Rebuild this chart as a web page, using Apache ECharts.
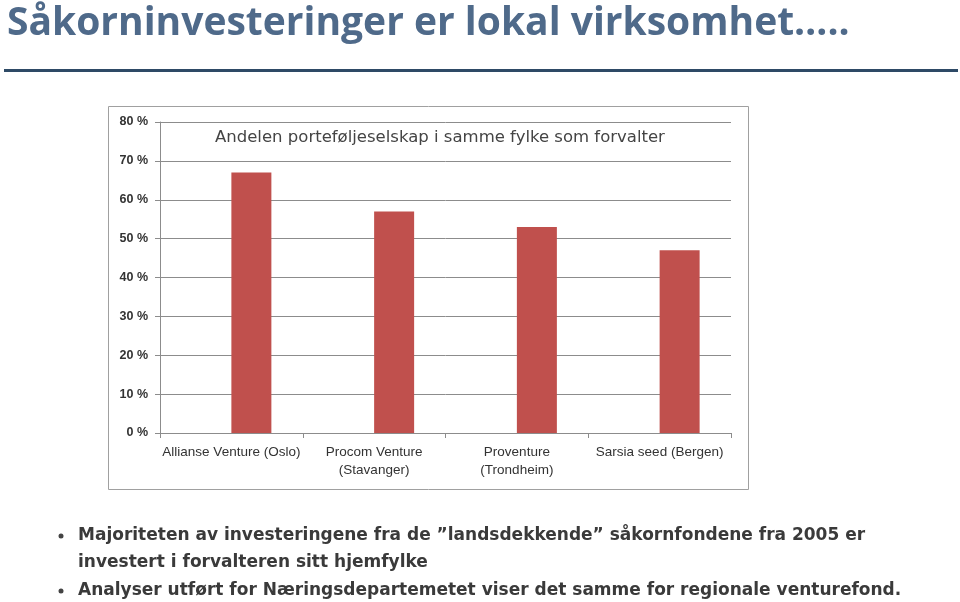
<!DOCTYPE html>
<html>
<head>
<meta charset="utf-8">
<script src="https://cdn.jsdelivr.net/npm/echarts@6/dist/echarts.min.js"></script>
<style>
  html, body { margin: 0; padding: 0; background: #fff; }
  #main { width: 960px; height: 602px; }
</style>
</head>
<body>
<div id="main"></div>
<script>
// data
var categories = ['Allianse Venture (Oslo)', 'Procom Venture\n(Stavanger)', 'Proventure\n(Trondheim)', 'Sarsia seed (Bergen)'];
var shares = [67, 57, 53, 47];
// the original (Excel) chart had an empty first series, which pushes the bars right
var emptySeries = [null, null, null, null];
var yTicks = [0, 10, 20, 30, 40, 50, 60, 70, 80];
var bullets = [
  'Majoriteten av investeringene fra de \u201dlandsdekkende\u201d såkornfondene fra 2005 er',
  'investert i forvalteren sitt hjemfylke',
  'Analyser utført for Næringsdepartemetet viser det samme for regionale venturefond.'
];

var myChart = echarts.init(document.getElementById('main'));

var option = {
  backgroundColor: '#fff',
  animation: false,
  grid: { left: 160, right: 229, top: 122, bottom: 169 },
  xAxis: {
    type: 'category',
    data: categories,
    axisLine: { lineStyle: { color: '#8c8c8c', width: 1 } },
    axisTick: { show: true, length: 5, lineStyle: { color: '#8c8c8c' } },
    axisLabel: {
      interval: 0,
      color: '#333',
      fontFamily: 'Liberation Sans',
      fontSize: 13.5,
      lineHeight: 18,
      margin: 10
    }
  },
  yAxis: {
    type: 'value',
    min: 0,
    max: yTicks[yTicks.length - 1],
    interval: 10,
    axisLine: { show: true, lineStyle: { color: '#8c8c8c' } },
    axisTick: { show: true, length: 5, lineStyle: { color: '#8c8c8c' } },
    splitLine: { lineStyle: { color: '#8c8c8c', width: 1 } },
    axisLabel: {
      color: '#333',
      fontFamily: 'Liberation Sans',
      fontWeight: 'bold',
      fontSize: 12.5,
      margin: 12,
      formatter: '{value} %'
    }
  },
  series: [
    {
      type: 'bar',
      data: emptySeries,
      barWidth: 40,
      barGap: 0
    },
    {
      type: 'bar',
      data: shares,
      barWidth: 40,
      barGap: 0,
      itemStyle: { color: '#c0504d' }
    }
  ],
  graphic: [
    {
      type: 'text', left: 7, top: 4,
      style: {
        text: 'Såkorninvesteringer er lokal virksomhet\u2026..',
        fill: '#4f6a8a', font: 'bold 39px "Open Sans"'
      }
    },
    {
      type: 'rect', shape: { x: 4, y: 69, width: 954, height: 3 },
      style: { fill: '#2e4a66' }
    },
    {
      type: 'rect', shape: { x: 108.5, y: 106.5, width: 640, height: 383 },
      style: { fill: 'none', stroke: '#a0a0a0', lineWidth: 1 }, z: -1
    },
    {
      type: 'text', left: 215, top: 129,
      style: {
        text: 'Andelen porteføljeselskap i samme fylke som forvalter',
        fill: '#444', font: '16.5px "DejaVu Sans"'
      }
    },
    { type: 'circle', shape: { cx: 61, cy: 536, r: 2.5 }, style: { fill: '#444' } },
    {
      type: 'text', left: 78, top: 527,
      style: { text: bullets[0], fill: '#3a3a3a', font: 'bold 17px "DejaVu Sans"' }
    },
    {
      type: 'text', left: 78, top: 554,
      style: { text: bullets[1], fill: '#3a3a3a', font: 'bold 17px "DejaVu Sans"' }
    },
    { type: 'circle', shape: { cx: 61, cy: 591, r: 2.5 }, style: { fill: '#444' } },
    {
      type: 'text', left: 78, top: 582,
      style: { text: bullets[2], fill: '#3a3a3a', font: 'bold 17px "DejaVu Sans"' }
    }
  ]
};

myChart.setOption(option);
</script>
</body>
</html>
